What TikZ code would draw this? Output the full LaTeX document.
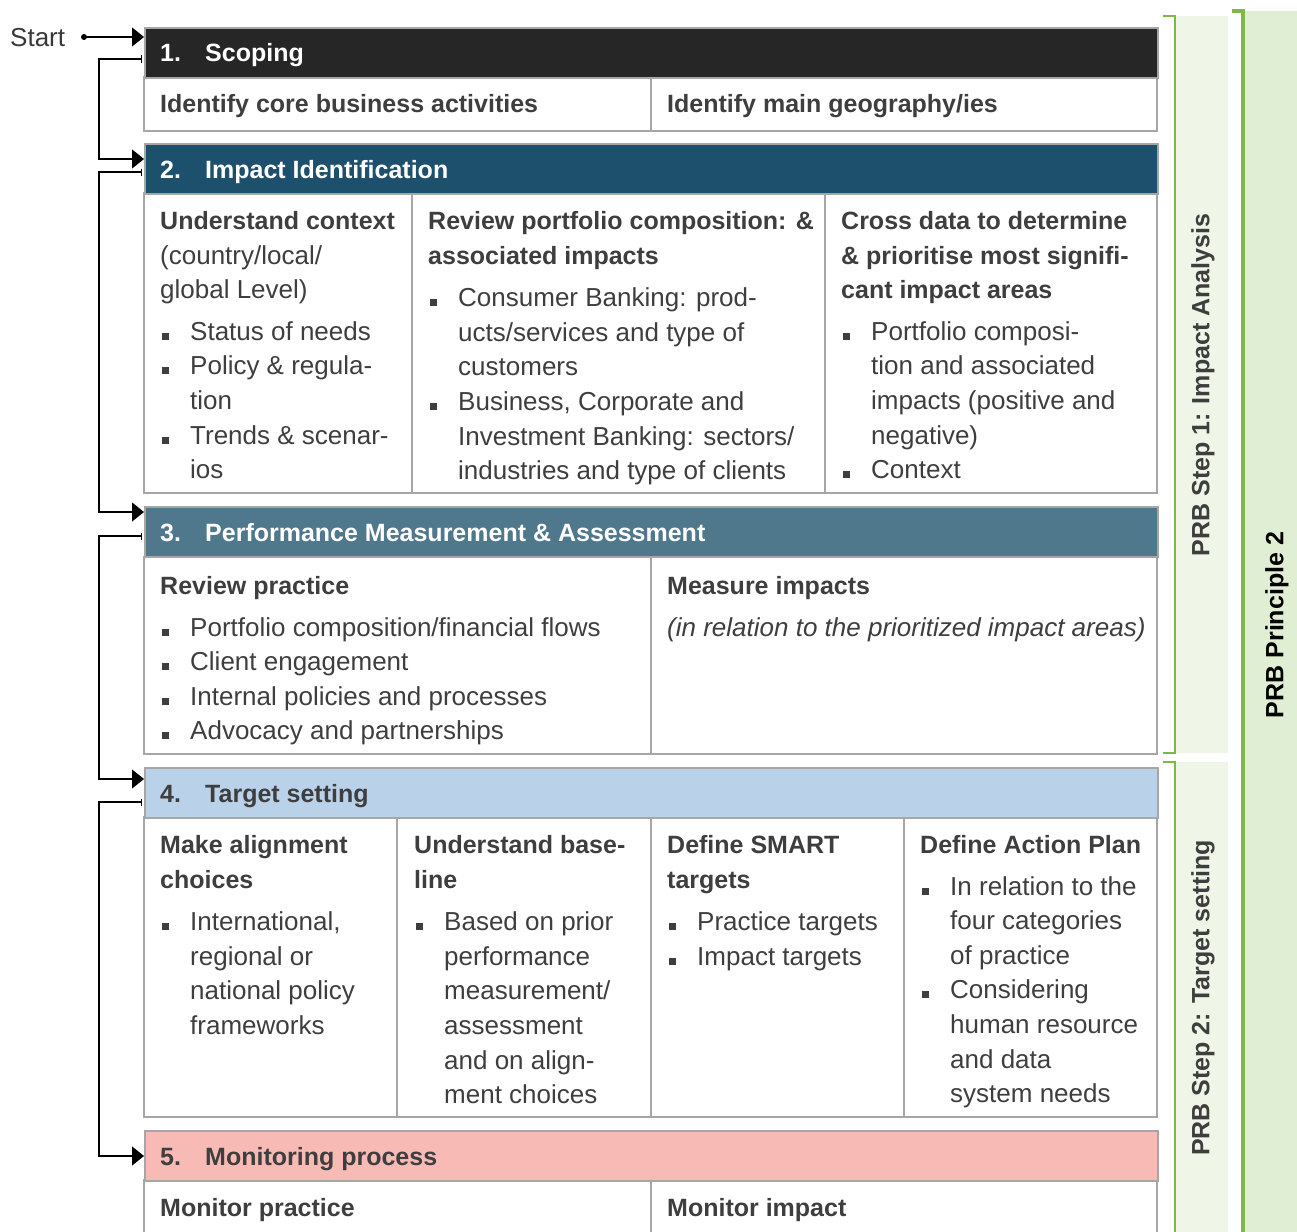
\documentclass[tikz,border=0pt]{standalone}
\usepackage{fontspec}
\setmainfont{Liberation Sans}
\usetikzlibrary{arrows.meta}
\definecolor{txt}{HTML}{3E3E3E}
\definecolor{hA}{HTML}{262626}
\definecolor{hB}{HTML}{1D506D}
\definecolor{hC}{HTML}{4F788D}
\definecolor{hD}{HTML}{B9D1E9}
\definecolor{hE}{HTML}{F8BAB5}
\definecolor{bord}{HTML}{A6A6A6}
\definecolor{grn}{HTML}{7CB84A}
\definecolor{panA}{HTML}{EFF5E7}
\definecolor{panB}{HTML}{E0EED3}
\newcommand{\myB}{\fontsize{25}{34.6}\selectfont\bfseries}
\newcommand{\myR}{\fontsize{26}{34.6}\selectfont}
\newcommand{\myI}{\fontsize{26}{34.6}\selectfont\itshape}
\newcommand{\mybul}{\hspace*{2pt}\makebox[28pt][l]{\raisebox{0.5pt}{\rule{7pt}{7pt}}}}
\newcommand{\mycont}{\hspace*{30pt}}
\tikzset{
  hdrbox/.style={draw=bord, line width=1.6pt, anchor=north west, inner sep=0pt, minimum width=1013, minimum height=50},
  frame/.style={draw=bord, line width=1.6pt},
  cell/.style={anchor=north west, inner sep=0pt, align=left, text=txt, font=\myR},
  one/.style={anchor=base west, inner sep=0pt, text=txt},
  hnum/.style={anchor=base west, inner sep=0pt, font=\myB},
  conn/.style={line width=1.3pt, {Bar[width=7pt,line width=1pt]}-{Triangle[length=12pt,width=19pt]}},
  side/.style={rotate=90, font=\myB, inner sep=0pt},
}
\begin{document}
\begin{tikzpicture}[x=1pt,y=-1pt]
\useasboundingbox (0,0) rectangle (1297,1231);
% right panels
\fill[panA] (1175,16) rectangle (1228,753);
\fill[panA] (1175,762) rectangle (1228,1235);
\fill[panB] (1243,11) rectangle (1297,1235);
\draw[grn, line width=2.2pt] (1163,16) -- (1175,16) -- (1175,753) -- (1163,753);
\draw[grn, line width=2.2pt] (1163,762) -- (1175,762) -- (1175,1240);
\draw[grn, line width=4pt] (1232,11) -- (1243,11) -- (1243,1240);
\node[side, text=txt] (p1) at (1203,385) {PRB Step 1: Impact Analysis};
\node[side, text=txt] (p2) at (1203,998) {PRB Step 2: Target setting};
\node[side, text=black] (p3) at (1277,625) {PRB Principle 2};

% body frames
\draw[frame] (144,77) rectangle (1157,131);
\draw[frame] (651,77) -- (651,131);
\draw[frame] (144,193) rectangle (1157,493);
\draw[frame] (412,193) -- (412,493);
\draw[frame] (825,193) -- (825,493);
\draw[frame] (144,557) rectangle (1157,754);
\draw[frame] (651,557) -- (651,754);
\draw[frame] (144,817) rectangle (1157,1117);
\draw[frame] (397,817) -- (397,1117);
\draw[frame] (651,817) -- (651,1117);
\draw[frame] (904,817) -- (904,1117);
\draw[frame] (144,1180) rectangle (1157,1245);
\draw[frame] (651,1180) -- (651,1245);

% headers
\node[hdrbox, fill=hA] (h1) at (144,27) {};
\node[hdrbox, fill=hB] (h2) at (144,143) {};
\node[hdrbox, fill=hC] (h3) at (144,506) {};
\node[hdrbox, fill=hD] (h4) at (144,767) {};
\node[hdrbox, fill=hE] (h5) at (144,1130) {};

\node[hnum, text=white] (n1) at (160,62) {1.};
\node[hnum, text=white] (t1) at (205,62) {Scoping};
\node[hnum, text=white] (n2) at (160,178) {2.};
\node[hnum, text=white] (t2) at (205,178) {Impact Identification};
\node[hnum, text=white] (n3) at (160,541) {3.};
\node[hnum, text=white] (t3) at (205,541) {Performance Measurement \& Assessment};
\node[hnum, text=txt] (n4) at (160,802) {4.};
\node[hnum, text=txt] (t4) at (205,802) {Target setting};
\node[hnum, text=txt] (n5) at (160,1165) {5.};
\node[hnum, text=txt] (t5) at (205,1165) {Monitoring process};

% box 1
\node[one, font=\myB] (c11) at (160,112) {Identify core business activities};
\node[one, font=\myB] (c12) at (667,112) {Identify main geography/ies};

% box 2
\node[cell] (c21) at (160,205) {\myB\strut Understand context\\
\myR (country/local/\\
\myR global Level)\\[7pt]
\myR\mybul Status of needs\\
\myR\mybul Policy \& regula-\\
\myR\mycont tion\\
\myR\mybul Trends \& scenar-\\
\myR\mycont ios};
\node[cell] (c22) at (428,205) {\myB\strut Review portfolio composition: \&\\
\myB associated impacts\\[8pt]
\myR\mybul Consumer Banking: prod-\\
\myR\mycont ucts/services and type of\\
\myR\mycont customers\\
\myR\mybul Business, Corporate and\\
\myR\mycont Investment Banking: sectors/\\
\myR\mycont industries and type of clients};
\node[cell] (c23) at (841,205) {\myB\strut Cross data to determine\\
\myB \& prioritise most signifi-\\
\myB cant impact areas\\[7pt]
\myR\mybul Portfolio composi-\\
\myR\mycont tion and associated\\
\myR\mycont impacts (positive and\\
\myR\mycont negative)\\
\myR\mybul Context};

% box 3
\node[cell] (c31) at (160,570) {\myB\strut Review practice\\[7pt]
\myR\mybul Portfolio composition/financial flows\\
\myR\mybul Client engagement\\
\myR\mybul Internal policies and processes\\
\myR\mybul Advocacy and partnerships};
\node[cell] (c32) at (667,570) {\myB\strut Measure impacts\\[7pt]
\myI (in relation to the prioritized impact areas)};

% box 4
\node[cell] (c41) at (160,829) {\myB\strut Make alignment\\
\myB choices\\[8pt]
\myR\mybul International,\\
\myR\mycont regional or\\
\myR\mycont national policy\\
\myR\mycont frameworks};
\node[cell] (c42) at (414,829) {\myB\strut Understand base-\\
\myB line\\[8pt]
\myR\mybul Based on prior\\
\myR\mycont performance\\
\myR\mycont measurement/\\
\myR\mycont assessment\\
\myR\mycont and on align-\\
\myR\mycont ment choices};
\node[cell] (c43) at (667,829) {\myB\strut Define SMART\\
\myB targets\\[8pt]
\myR\mybul Practice targets\\
\myR\mybul Impact targets};
\node[cell] (c44) at (920,829) {\myB\strut Define Action Plan\\[7pt]
\myR\mybul In relation to the\\
\myR\mycont four categories\\
\myR\mycont of practice\\
\myR\mybul Considering\\
\myR\mycont human resource\\
\myR\mycont and data\\
\myR\mycont system needs};

% box 5
\node[one, font=\myB] (c51) at (160,1216) {Monitor practice};
\node[one, font=\myB] (c52) at (667,1216) {Monitor impact};

% start
\node[one, font=\myR, text=txt!90!black] (start) at (10,46) {Start};
\coordinate (dot) at (84,37);
\coordinate (a1) at (144,37);
\fill (dot) circle (3);
\draw[line width=1.3pt, -{Triangle[length=12pt,width=19pt]}] (dot) -- (a1);

% connectors
\coordinate (s1) at (142,59);  \coordinate (a2) at (144,159);
\coordinate (s2) at (142,172); \coordinate (a3) at (144,512);
\coordinate (s3) at (142,536); \coordinate (a4) at (144,779);
\coordinate (s4) at (142,802); \coordinate (a5) at (144,1156);
\draw[conn] (s1) -- ++(-43,0) |- (a2);
\draw[conn] (s2) -- ++(-43,0) |- (a3);
\draw[conn] (s3) -- ++(-43,0) |- (a4);
\draw[conn] (s4) -- ++(-43,0) |- (a5);
\end{tikzpicture}
\end{document}
